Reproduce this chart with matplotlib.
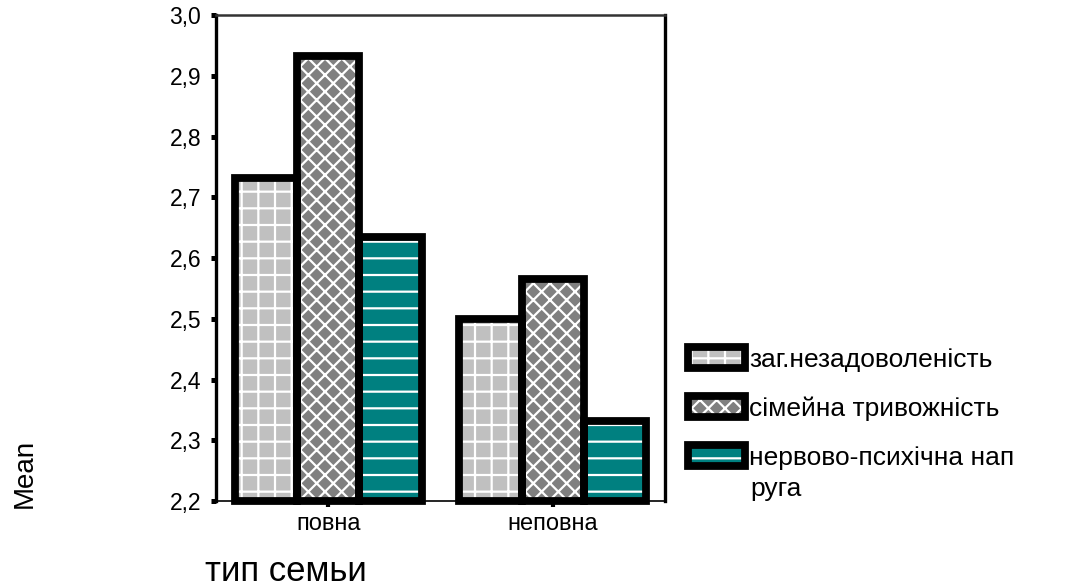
import matplotlib
matplotlib.use("Agg")
import matplotlib.pyplot as plt
from matplotlib.legend_handler import HandlerTuple
import numpy as np

# data
categories = ['повна', 'неповна']
series_names = ['заг.незадоволеність', 'сімейна тривожність', 'нервово-психічна нап']
series_tail = 'руга'
zag_nezadov = [2.731, 2.499]
simeina_tryv = [2.933, 2.565]
nervovo_psych = [2.634, 2.331]
y_ticks = [2.2, 2.3, 2.4, 2.5, 2.6, 2.7, 2.8, 2.9, 3.0]
y_tick_labels = ['2,2', '2,3', '2,4', '2,5', '2,6', '2,7', '2,8', '2,9', '3,0']

plt.rcParams['font.family'] = ['Liberation Sans', 'DejaVu Sans']
plt.rcParams['hatch.linewidth'] = 1.6

W, H = 1077, 586
fig = plt.figure(figsize=(W / 100, H / 100), dpi=100)
ax = fig.add_axes([216 / W, 85 / H, 449 / W, 486 / H])

x = np.arange(len(categories))
width = 0.277
base = y_ticks[0]
series = [zag_nezadov, simeina_tryv, nervovo_psych]
faces = ['#c0c0c0', '#808080', '#008080']
hatches = ['+', 'xx', '-']

handles = []
for i, (vals, fc, hatch) in enumerate(zip(series, faces, hatches)):
    pos = x + (i - 1) * width
    heights = [v - base for v in vals]
    # white hatch first, black frame on top
    fill = ax.bar(pos, heights, width, bottom=base, color=fc, edgecolor='white',
                  hatch=hatch, linewidth=0, clip_on=False, zorder=2)
    edge = ax.bar(pos, heights, width, bottom=base, fill=False, edgecolor='black',
                  linewidth=5.6, clip_on=False, zorder=3)
    handles.append((fill[0], edge[0]))

ax.set_xlim(-0.5, 1.5)
ax.set_ylim(y_ticks[0], y_ticks[-1])
ax.set_yticks(y_ticks)
ax.set_yticklabels(y_tick_labels)
ax.set_xticks(x)
ax.set_xticklabels(categories)

ax.tick_params(axis='y', direction='out', length=3.6, width=3.6, pad=7, labelsize=16.5)
ax.tick_params(axis='x', direction='out', length=4, width=3, pad=5, labelsize=17)

ax.spines['left'].set_linewidth(2.4)
ax.spines['right'].set_linewidth(2.4)
ax.spines['top'].set_linewidth(1.8)
ax.spines['top'].set_color('#333333')
ax.spines['bottom'].set_linewidth(1.2)

leg_size = 19
ax.legend(handles, series_names,
          handler_map={tuple: HandlerTuple(ndivide=1, pad=0)},
          loc='upper left', bbox_to_anchor=(688 / W, 1 - 347 / H),
          bbox_transform=fig.transFigure, frameon=False, fontsize=leg_size,
          handlelength=2.16, handleheight=0.83, handletextpad=0.17,
          labelspacing=0.93, borderpad=0, borderaxespad=0)

# wrapped tail of the last legend label
fig.text(750 / W, 1 - 496 / H, series_tail, ha='left', va='baseline', fontsize=leg_size)

fig.text(24.5 / W, 1 - 473.5 / H, 'Mean', rotation=90, ha='center', va='center',
         fontsize=20)
fig.text(205 / W, 1 - 581 / H, 'тип семьи', ha='left', va='baseline', fontsize=25)

fig.savefig('out.png', dpi=100)
